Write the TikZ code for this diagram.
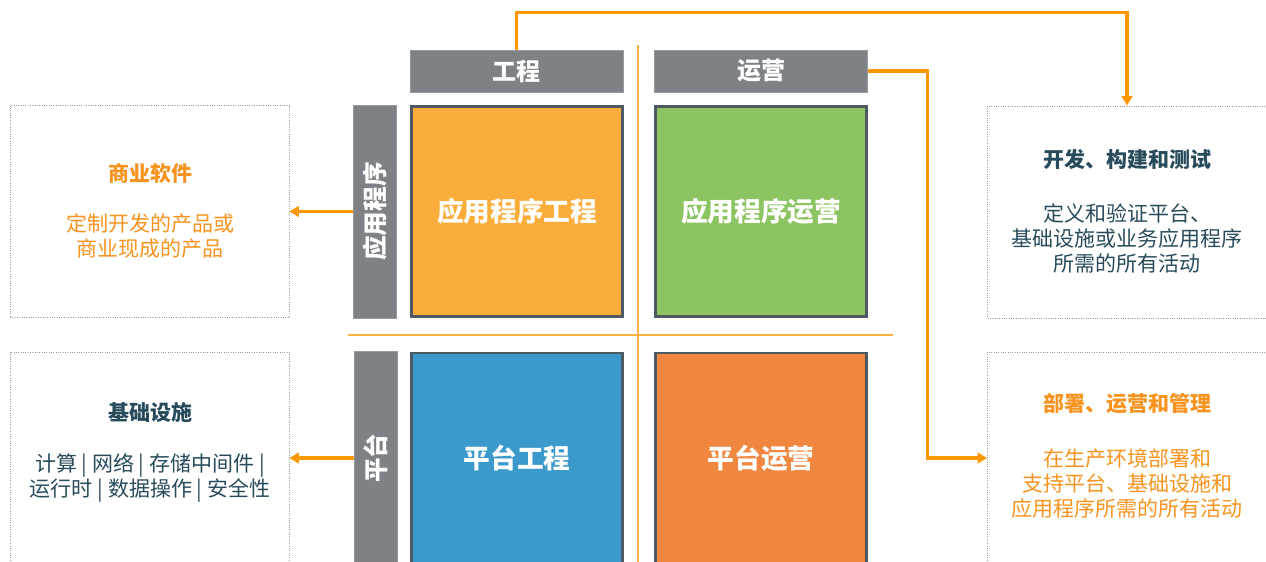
\documentclass[tikz,border=0pt]{standalone}
\usepackage{fontspec}
\setmainfont{Noto Sans CJK SC}
\usetikzlibrary{arrows.meta}
\newdimen\pxu \pxu=0.75pt
\definecolor{hdrgray}{HTML}{7E8286}
\definecolor{qborder}{HTML}{4F5963}
\definecolor{qorange}{HTML}{FBAD3C}
\definecolor{qgreen}{HTML}{8DC462}
\definecolor{qblue}{HTML}{3B9ACB}
\definecolor{qred}{HTML}{EF8741}
\definecolor{connc}{HTML}{FF9800}
\definecolor{divc}{HTML}{FBB040}
\definecolor{tealtext}{HTML}{284B5C}
\definecolor{orangetext}{HTML}{F7931E}
\definecolor{boxline}{HTML}{9A9A9A}
\tikzset{
  hdrbox/.style={rectangle, fill=hdrgray, draw=hdrgray!80!white, line width=0.6pt, inner sep=0pt, minimum width=213\pxu, minimum height=42\pxu, text=white, font=\bfseries\fontsize{18}{20}\selectfont},
  sidebox/.style={rectangle, fill=hdrgray, draw=hdrgray!80!white, line width=0.6pt, inner sep=0pt, minimum width=43\pxu, minimum height=213\pxu},
  sidetext/.style={rotate=90, text=white, font=\bfseries\fontsize{18.5}{20}\selectfont},
  quad/.style={rectangle, draw=qborder, line width=2.2pt, inner sep=0pt, minimum width=211\pxu, minimum height=210\pxu, text=white, font=\bfseries\fontsize{20}{22}\selectfont},
  infobox/.style={rectangle, draw=boxline, densely dotted, line width=0.75pt, inner sep=0pt, minimum width=279\pxu, minimum height=212\pxu},
  infotitle/.style={font=\bfseries\fontsize{15.75}{18.75}\selectfont},
  infobody/.style={align=center, font=\fontsize{15.75}{18.75}\selectfont},
  conn/.style={draw=connc, line width=2.3pt, -{Triangle[length=7pt,width=8pt]}},
  divline/.style={draw=divc, line width=2.2pt},
}
\begin{document}
\begin{tikzpicture}[x=0.75pt,y=-0.75pt]
\useasboundingbox (0,0) rectangle (1266,561);
\clip (0,0) rectangle (1266,561);

% dividers
\coordinate (vtop) at (638,45);
\coordinate (vbot) at (638,565);
\coordinate (hl) at (348,335);
\coordinate (hr) at (893,335);
\draw[divline] (vtop) -- (vbot);
\draw[divline] (hl) -- (hr);

% headers
\node[hdrbox] (hE) at (516.5,71) {工程};
\node[hdrbox] (hO) at (761,71) {运营};

% side labels
\node[sidebox] (sA) at (375,211.5) {};
\node[sidetext] (sAt) at (sA.center) {应用程序};
\node[sidebox] (sP) at (376,458) {};
\node[sidetext] (sPt) at (sP.center) {平台};

% quadrants
\node[quad, fill=qorange] (qAE) at (517,211.5) {应用程序工程};
\node[quad, fill=qgreen] (qAO) at (761,211.5) {应用程序运营};
\node[quad, fill=qblue] (qPE) at (517,458) {平台工程};
\node[quad, fill=qred] (qPO) at (761,458) {平台运营};

% info boxes
\node[infobox] (lt) at (149.5,211.5) {};
\node[infobox] (lb) at (149.5,458) {};
\node[infobox] (rt) at (1127,212) {};
\node[infobox] (rb) at (1127,458) {};

\node[infotitle, text=orangetext] (ltT) at (150,173) {商业软件};
\node[infobody, text=orangetext] (ltB) at (150,236) {定制开发的产品或\\商业现成的产品};

\node[infotitle, text=tealtext] (lbT) at (150,412) {基础设施};
\node[infobody, text=tealtext] (lbB) at (150,478) {计算 | 网络 | 存储中间件 |\\运行时 | 数据操作 | 安全性};

\node[infotitle, text=tealtext] (rtT) at (1127,159) {开发、构建和测试};
\node[infobody, text=tealtext] (rtB) at (1127,238) {定义和验证平台、\\基础设施或业务应用程序\\所需的所有活动};

\node[infotitle, text=orangetext] (rbT) at (1127,404) {部署、运营和管理};
\node[infobody, text=orangetext] (rbB) at (1127,484) {在生产环境部署和\\支持平台、基础设施和\\应用程序所需的所有活动};

% connectors
\draw[conn] (hE.north) -- ++(0,-37) -| (rt.north);
\draw[conn] (hO.east) -- ++(60,0) |- (rb.west);
\draw[conn] (sA.west) -- (lt.east);
\draw[conn] (sP.west) -- (lb.east);
\end{tikzpicture}
\end{document}
